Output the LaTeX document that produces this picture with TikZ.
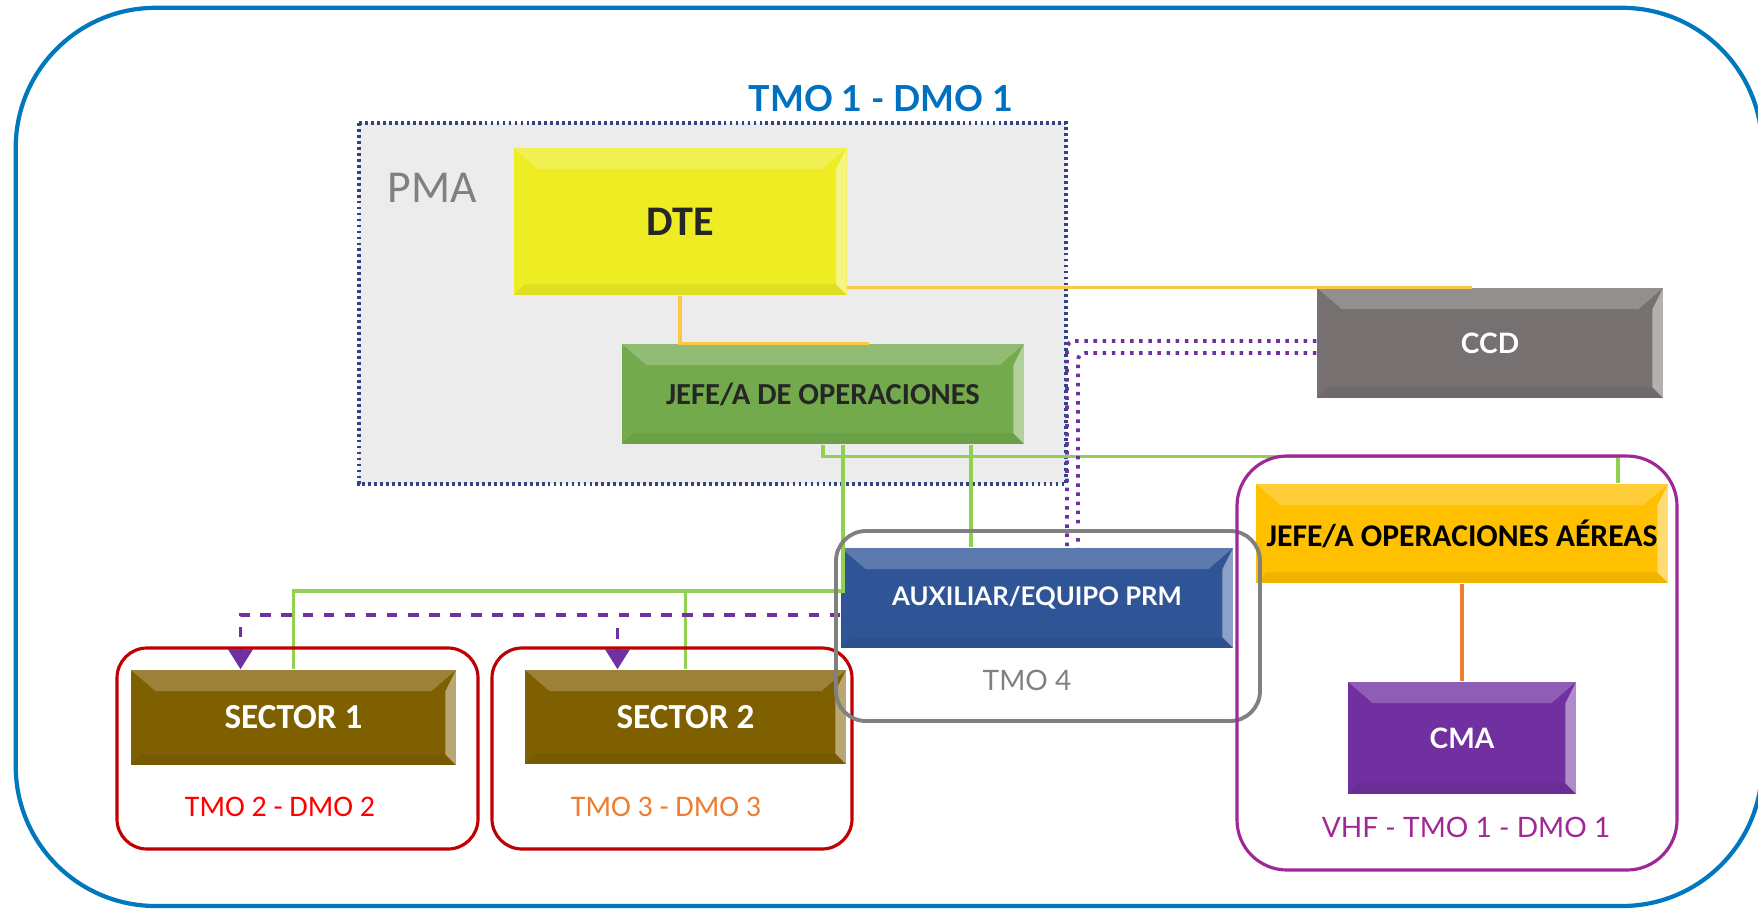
\documentclass[tikz,border=0pt]{standalone}
\usepackage{fontspec}
\setmainfont{Carlito}
\newfontfamily\latofont{Lato}
\usetikzlibrary{arrows.meta, positioning, calc}
\definecolor{outerblue}{RGB}{0,120,190}
\definecolor{titleblue}{RGB}{0,112,192}
\definecolor{pmagray}{RGB}{236,236,236}
\definecolor{pmaborder}{RGB}{47,68,128}
\definecolor{dteyellow}{RGB}{238,236,34}
\definecolor{opgreen}{RGB}{114,170,76}
\definecolor{ccdgray}{RGB}{118,112,112}
\definecolor{aerogold}{RGB}{255,192,0}
\definecolor{cmapurple}{RGB}{112,48,160}
\definecolor{auxblue}{RGB}{47,85,151}
\definecolor{sectorolive}{RGB}{127,96,0}
\definecolor{frred}{RGB}{192,0,0}
\definecolor{frgray}{RGB}{128,128,128}
\definecolor{frpurple}{RGB}{160,40,150}
\definecolor{lnyellow}{RGB}{250,200,70}
\definecolor{lngreen}{RGB}{146,208,80}
\definecolor{lnorange}{RGB}{237,125,49}
\definecolor{txtred}{RGB}{255,0,0}
\tikzset{
  bevel/.style={path picture={
    \fill[white, opacity=0.22] (path picture bounding box.north west) -- (path picture bounding box.north east)
      -- ([xshift=-7pt,yshift=-6pt]path picture bounding box.north east) -- ([xshift=7pt,yshift=-6pt]path picture bounding box.north west) -- cycle;
    \fill[white, opacity=0.45] (path picture bounding box.north east) -- (path picture bounding box.south east)
      -- ([xshift=-3pt,yshift=3pt]path picture bounding box.south east) -- ([xshift=-3pt,yshift=-6pt]path picture bounding box.north east) -- cycle;
    \fill[black, opacity=0.06] (path picture bounding box.south west) -- (path picture bounding box.south east)
      -- ([xshift=-3pt,yshift=3pt]path picture bounding box.south east) -- ([xshift=3pt,yshift=3pt]path picture bounding box.south west) -- cycle;}},
  unit/.style={rectangle, inner sep=0pt, align=center, bevel, font=\bfseries},
  dtebox/.style={unit, fill=dteyellow, text=black!85, font=\bfseries\fontsize{12}{14}\selectfont},
  opbox/.style={unit, fill=opgreen, text=black!85, font=\bfseries\fontsize{8.7}{10}\selectfont},
  ccdbox/.style={unit, fill=ccdgray, text=white, font=\latofont\bfseries\fontsize{8}{10}\selectfont},
  aerobox/.style={unit, fill=aerogold, text=black, font=\bfseries\fontsize{9}{11}\selectfont},
  cmabox/.style={unit, fill=cmapurple, text=white, font=\latofont\bfseries\fontsize{8}{10}\selectfont},
  auxbox/.style={unit, fill=auxblue, text=white, font=\latofont\bfseries\fontsize{7.3}{9}\selectfont},
  sectorbox/.style={unit, fill=sectorolive, text=white, font=\bfseries\fontsize{10}{12}\selectfont},
  frame/.style={rounded corners=0.3cm, line width=0.9pt},
  tag/.style={inner sep=0pt, font=\fontsize{8.5}{10}\selectfont},
  yline/.style={lnyellow, line width=0.9pt},
  gline/.style={lngreen, line width=0.9pt},
  oline/.style={lnorange, line width=0.9pt},
  pdot/.style={cmapurple, line width=1.1pt, dash pattern=on 1pt off 1.6pt, rounded corners=2pt},
  pdash/.style={cmapurple, line width=1.1pt, dash pattern=on 3pt off 3pt, -{Triangle[width=0.24cm,length=0.2cm]}}
}

\begin{document}
\begin{tikzpicture}
  \useasboundingbox (0,0) rectangle (17.58,-9.09);
  % outer frame
  \draw[outerblue, line width=1.2pt, rounded corners=1.4cm] (0.157,-0.078) rectangle (17.62,-9.06);

  % PMA area
  \draw[pmaborder, fill=pmagray, line width=1pt, dash pattern=on 0.8pt off 0.9pt] (3.59,-1.23) rectangle (10.66,-4.84);
  \node[text=frgray, font=\fontsize{13}{15}\selectfont] (pma) at (4.32,-1.88) {PMA};
  \node[text=titleblue, font=\latofont\bfseries\fontsize{10.2}{12}\selectfont] (title) at (8.81,-0.99) {TMO 1 - DMO 1};

  % units
  \node[dtebox, minimum width=3.33cm, minimum height=1.47cm] (dte) at (6.80,-2.215) {DTE};
  \node[opbox, minimum width=4.02cm, minimum height=1.00cm] (jefeop) at (8.23,-3.94) {JEFE/A DE OPERACIONES};
  \node[ccdbox, minimum width=3.46cm, minimum height=1.10cm] (ccd) at (14.90,-3.43) {CCD};
  \node[aerobox, minimum width=4.12cm, minimum height=0.99cm] (aereas) at (14.62,-5.335) {JEFE/A OPERACIONES AÉREAS};
  \node[cmabox, minimum width=2.28cm, minimum height=1.12cm] (cma) at (14.62,-7.38) {CMA};
  \node[auxbox, minimum width=3.92cm, minimum height=1.00cm] (aux) at (10.37,-5.98) {AUXILIAR/EQUIPO PRM};
  \node[sectorbox, minimum width=3.25cm, minimum height=0.95cm] (sec1) at (2.935,-7.175) {SECTOR 1};
  \node[sectorbox, minimum width=3.21cm, minimum height=0.94cm] (sec2) at (6.855,-7.17) {SECTOR 2};

  % connectors
  \draw[yline] (dte.south) |- ([xshift=0.46cm]jefeop.north);
  \coordinate (ccdin) at ([xshift=-0.18cm]ccd.north);
  \draw[yline] (dte.east |- ccdin) -- (ccdin);
  \draw[gline] (jefeop.south) -- ++(0,-0.12) -| ([xshift=1.56cm]aereas.north);
  \coordinate (gsplit) at (8.43,-5.91);
  \draw[gline] (jefeop.south -| gsplit) -- (gsplit) -| (sec1.north);
  \draw[gline] (gsplit -| sec2.north) -- (sec2.north);
  \coordinate (auxin) at ([xshift=-0.66cm]aux.north);
  \draw[gline] (auxin |- jefeop.south) -- (auxin);
  \coordinate (pd1) at ([xshift=0.30cm]aux.north);
  \coordinate (pd2) at ([xshift=0.41cm]aux.north);
  \draw[pdot] ([yshift=0.02cm]ccd.west) -| (pd1);
  \draw[pdot] ([yshift=-0.10cm]ccd.west) -| (pd2);
  \coordinate (pdsplit) at ([yshift=-0.17cm]aux.west);
  \coordinate (s1in) at ([xshift=-0.53cm]sec1.north);
  \coordinate (s2in) at ([xshift=-0.68cm]sec2.north);
  \draw[pdash] (pdsplit) -| (s1in);
  \draw[pdash] ([yshift=-0.13cm]pdsplit -| s2in) -- (s2in);
  \draw[oline] (aereas.south) -- (cma.north);

  % groups
  \draw[frred, frame] (1.17,-6.48) rectangle (4.78,-8.49);
  \draw[frred, frame] (4.92,-6.48) rectangle (8.52,-8.49);
  \draw[frgray, frame, line width=1.1pt] (8.36,-5.31) rectangle (12.60,-7.21);
  \draw[frpurple, frame, rounded corners=0.5cm] (12.37,-4.56) rectangle (16.77,-8.70);
  \node[tag, text=txtred] (tmo2) at (2.80,-8.07) {TMO 2 - DMO 2};
  \node[tag, text=lnorange] (tmo3) at (6.66,-8.07) {TMO 3 - DMO 3};
  \node[tag, text=frgray, font=\latofont\fontsize{8}{10}\selectfont] (tmo4) at (10.27,-6.80) {TMO 4};
  \node[tag, text=frpurple, font=\latofont\fontsize{8}{10}\selectfont] (vhf) at (14.66,-8.27) {VHF - TMO 1 - DMO 1};
\end{tikzpicture}
\end{document}
